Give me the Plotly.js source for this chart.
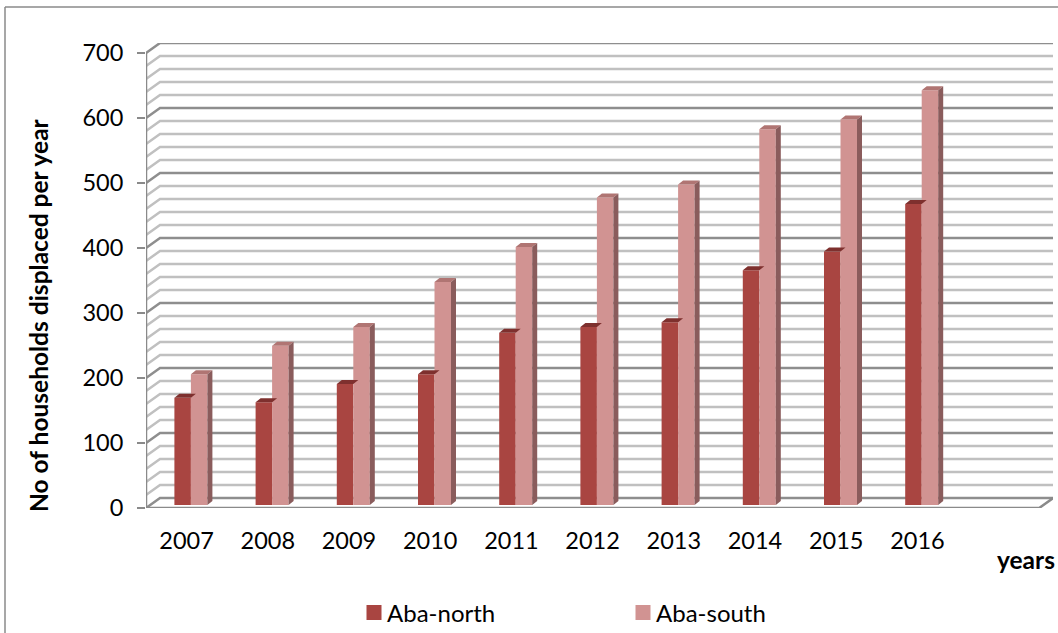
<!DOCTYPE html>
<html><head><meta charset="utf-8">
<script src="https://cdn.plot.ly/plotly-3.0.1.min.js"></script>
<style>html,body{margin:0;padding:0;background:#fff}#c{width:1058px;height:633px}</style></head>
<body><div id="c"></div>
<script>
const years = [2007,2008,2009,2010,2011,2012,2013,2014,2015,2016];
const abaNorth = [165,158,186,201,265,274,281,361,390,463];
const abaSouth = [201,245,274,343,397,473,493,578,593,638];
const yTicks = [0,100,200,300,400,500,600,700];
const seriesNames = ['Aba-north','Aba-south'];

const W=1058,H=633,L=146,R=1053,T=43,B=508;
const pxX=81.2, pxY=0.65;
const ux=p=>p/pxX, uy=p=>p/pxY;
const xMin=2006.5, xFrontEnd=xMin+11, wallDx=ux(14), wallDy=uy(10);
const xMax=xMin+(R-L)/pxX, yMax=(B-T)/pxY;
const barW=ux(16.5), barShift=ux(4.3), barBase=uy(3), sideX=ux(5), sideY=uy(4);
const cN='#A94541',cS='#D19392',topN='#7E302E',topS='#B07573',sideS='#8A5C5C';

function gridShapes(vals,color,width){
  return vals.map(v=>({type:'path',xref:'x',yref:'y',layer:'below',
    path:`M${xMin},${v} L${xMin+wallDx},${v+wallDy} L${xMax},${v+wallDy}`,
    line:{color,width}}));
}
const minor=[];for(let v=0;v<700;v+=20) if(v%100) minor.push(v);
function poly(xs,ys,color){return {type:'scatter',mode:'lines',x:xs,y:ys,fill:'toself',fillcolor:color,line:{width:0,color},hoverinfo:'skip',showlegend:false,cliponaxis:false};}
function faces(vals,off,topC,sideC){
  const tx=[],ty=[],sx=[],sy=[];
  years.forEach((yr,i)=>{
    const a=yr+barShift+off,b=a+barW,v=vals[i]+barBase;
    tx.push(a,b,b+sideX,a+sideX,a,null);ty.push(v,v,v+sideY,v+sideY,v,null);
    sx.push(b,b+sideX,b+sideX,b,b,null);sy.push(barBase,barBase+sideY,v+sideY,v,barBase,null);
  });
  const out=[poly(tx,ty,topC)];
  if(sideC) out.push(poly(sx,sy,sideC));
  return out;
}
const structure={type:'scatter',mode:'lines',hoverinfo:'skip',showlegend:false,cliponaxis:false,
  line:{color:'#8a8a8a',width:2.5},
  x:[xMin,xMin,null,xMin,xFrontEnd,xFrontEnd+wallDx],
  y:[700,0,null,0,0,wallDy]};
const bars=[
  {type:'bar',name:seriesNames[0],x:years,y:abaNorth,base:years.map(()=>barBase),width:barW,offset:barShift-barW,marker:{color:cN}},
  {type:'bar',name:seriesNames[1],x:years,y:abaSouth,base:years.map(()=>barBase),width:barW,offset:barShift,marker:{color:cS}}
];
const traces=[structure,...faces(abaNorth,-barW,topN,null),...faces(abaSouth,0,topS,sideS),...bars];
const font='Lato, sans-serif';
const px=p=>(p-L)/(R-L), py=p=>(B-p)/(B-T);
const layout={width:W,height:H,margin:{l:L,r:W-R,t:T,b:H-B,pad:0},paper_bgcolor:'#fff',plot_bgcolor:'rgba(0,0,0,0)',
  barmode:'overlay',font:{family:font,size:23.5,color:'#000'},
  xaxis:{range:[xMin,xMax],tickmode:'array',tickvals:years,ticktext:years.map(String),ticks:'',showgrid:false,zeroline:false,showline:false,ticklabelstandoff:16,tickfont:{size:23.5,family:font}},
  yaxis:{range:[0,yMax],tickmode:'array',tickvals:yTicks,ticks:'outside',ticklen:8,tickwidth:2.5,tickcolor:'#8a8a8a',showgrid:false,zeroline:false,showline:false,ticklabelstandoff:9,tickfont:{size:23.5,family:font}},
  showlegend:true,
  legend:{orientation:'h',xref:'container',yref:'container',x:347/W,y:1-613/H,xanchor:'left',yanchor:'middle',entrywidth:224,entrywidthmode:'pixels',font:{size:24,family:font},traceorder:'normal',bgcolor:'rgba(0,0,0,0)'},
  annotations:[
    {text:'<b>No of households displaced per year</b>',xref:'paper',yref:'paper',x:px(38),y:py(315),xanchor:'center',yanchor:'middle',textangle:-90,showarrow:false,font:{size:24.5,family:font}},
    {text:'<b>years</b>',xref:'paper',yref:'paper',x:px(1026),y:py(559),xanchor:'center',yanchor:'middle',showarrow:false,font:{size:24.5,family:font}}
  ],
  shapes:[...gridShapes(minor,'#c0c0c0',2.5),...gridShapes(yTicks,'#8e8e8e',2.5),
    {type:'line',xref:'paper',yref:'paper',x0:px(5),x1:px(5),y0:py(633),y1:py(7),line:{color:'#8a8a8a',width:1.5}},
    {type:'line',xref:'paper',yref:'paper',x0:px(5),x1:px(1058),y0:py(7),y1:py(7),line:{color:'#8a8a8a',width:1.5}}]
};
Plotly.newPlot('c',traces,layout,{displayModeBar:false,staticPlot:true}).then(()=>{
  document.querySelectorAll('.legend .legendpoints path').forEach(p=>p.setAttribute('transform','translate(27,0) scale(1.25)'));
});
</script></body></html>
